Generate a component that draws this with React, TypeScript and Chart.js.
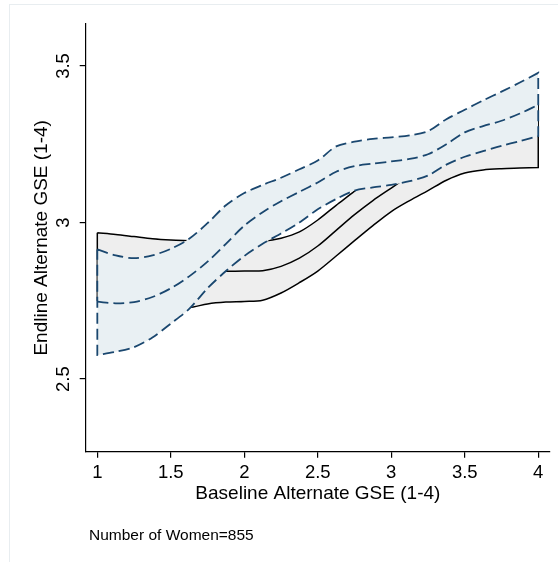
import React, { useEffect, useRef } from "react";
import { Chart, registerables } from "chart.js";

Chart.register(...registerables);

// Baseline score grid (x)
const X_GRID = [1, 1.125, 1.25, 1.375, 1.5, 1.625, 1.75, 1.875, 2, 2.125, 2.25, 2.375, 2.5, 2.625, 2.75, 2.875, 3, 3.125, 3.25, 3.375, 3.5, 3.625, 3.75, 3.875, 4];

// Blue band (dashed): upper CI, fit, lower CI
const BLUE_UPPER = [2.914, 2.895, 2.886, 2.895, 2.916, 2.948, 2.998, 3.055, 3.094, 3.12, 3.143, 3.17, 3.198, 3.243, 3.258, 3.267, 3.272, 3.278, 3.292, 3.33, 3.36, 3.39, 3.418, 3.447, 3.478];
const BLUE_MID = [2.747, 2.742, 2.746, 2.762, 2.79, 2.828, 2.875, 2.932, 2.99, 3.033, 3.068, 3.098, 3.128, 3.162, 3.18, 3.188, 3.195, 3.203, 3.218, 3.25, 3.288, 3.308, 3.325, 3.348, 3.376];
const BLUE_LOWER = [2.577, 2.587, 2.602, 2.633, 2.677, 2.724, 2.79, 2.845, 2.893, 2.932, 2.965, 3.0, 3.042, 3.075, 3.102, 3.112, 3.12, 3.132, 3.15, 3.185, 3.21, 3.228, 3.245, 3.26, 3.276];

// Gray band (solid): upper CI, fit, lower CI
const GRAY_UPPER = [2.967, 2.962, 2.955, 2.948, 2.944, 2.942, 2.94, 2.938, 2.938, 2.94, 2.95, 2.97, 3.008, 3.055, 3.1, 3.15, 3.19, 3.225, 3.26, 3.3, 3.33, 3.35, 3.365, 3.375, 3.385];
const GRAY_MID = [2.86, 2.855, 2.85, 2.847, 2.845, 2.843, 2.843, 2.844, 2.845, 2.846, 2.86, 2.886, 2.925, 2.975, 3.025, 3.07, 3.11, 3.15, 3.18, 3.21, 3.235, 3.255, 3.265, 3.275, 3.29];
const GRAY_LOWER = [2.752, 2.745, 2.74, 2.735, 2.728, 2.728, 2.74, 2.746, 2.748, 2.752, 2.775, 2.808, 2.845, 2.893, 2.942, 2.99, 3.035, 3.07, 3.102, 3.135, 3.158, 3.168, 3.172, 3.174, 3.176];

const X_TICKS = [1, 1.5, 2, 2.5, 3, 3.5, 4];
const Y_TICKS = [2.5, 3, 3.5];

const X_TITLE = "Baseline Alternate GSE (1-4)";
const Y_TITLE = "Endline Alternate GSE (1-4)";
const NOTE = "Number of Women=855";

const FONT = "'Liberation Sans', Arial, Helvetica, sans-serif";
const NAVY = "#1a476f";
const BLUE_FILL = "rgb(233,240,243)";
const GRAY_FILL = "rgb(238,238,238)";

type P = { x: number; y: number };

function toPoints(ys: number[]): P[] {
  return X_GRID.map((x, i) => ({ x, y: ys[i] }));
}

// Closed outline: upper left->right, down the right edge, lower right->left, up the left edge.
function outline(upper: number[], lower: number[]): P[] {
  const up = toPoints(upper);
  const lo = toPoints(lower).reverse();
  const uEnd = up[up.length - 1];
  const lStart = lo[0];
  const lEnd = lo[lo.length - 1];
  return [...up, { ...uEnd }, ...lo.slice(0, 1), { ...lStart }, ...lo.slice(1), { ...lEnd }, { ...up[0] }];
}

const TENSION = 0.3;
const HIDDEN = "rgba(0,0,0,0)";
const DASH = [11, 5];

export default function App() {
  const ref = useRef<HTMLCanvasElement | null>(null);

  useEffect(() => {
    if (!ref.current) return;
    const common = { pointRadius: 0, tension: TENSION };
    const chart = new Chart(ref.current, {
      type: "line",
      data: {
        datasets: [
          { ...common, data: outline(BLUE_UPPER, BLUE_LOWER), borderColor: NAVY, borderWidth: 1.8, borderDash: DASH, fill: false } as any,
          { ...common, data: toPoints(BLUE_MID), borderColor: NAVY, borderWidth: 1.8, borderDash: DASH, fill: false } as any,
          { ...common, data: toPoints(BLUE_UPPER), borderColor: HIDDEN, borderWidth: 0, backgroundColor: BLUE_FILL, fill: "+1" } as any,
          { ...common, data: toPoints(BLUE_LOWER), borderColor: HIDDEN, borderWidth: 0, fill: false } as any,
          { ...common, data: outline(GRAY_UPPER, GRAY_LOWER), borderColor: "#000", borderWidth: 1.5, fill: false } as any,
          { ...common, data: toPoints(GRAY_MID), borderColor: "#000", borderWidth: 1.5, fill: false } as any,
          { ...common, data: toPoints(GRAY_UPPER), borderColor: HIDDEN, borderWidth: 0, backgroundColor: GRAY_FILL, fill: "+1" } as any,
          { ...common, data: toPoints(GRAY_LOWER), borderColor: HIDDEN, borderWidth: 0, fill: false } as any,
        ],
      },
      options: {
        responsive: false,
        animation: false,
        events: [],
        layout: { padding: { left: 0, right: 8, top: 24, bottom: 57.1 } },
        plugins: {
          legend: { display: false },
          tooltip: { enabled: false },
          title: { display: false },
        },
        scales: {
          x: {
            type: "linear",
            min: 0.921,
            max: 4.08,
            afterFit: (s: any) => { s.height = 53.2; },
            afterBuildTicks: (s: any) => { s.ticks = X_TICKS.map((v) => ({ value: v })); },
            grid: { display: true, drawOnChartArea: false, drawTicks: true, tickLength: 6, color: "#000", lineWidth: 1.2 },
            border: { display: true, color: "#000", width: 1.2 },
            ticks: {
              autoSkip: false,
              minRotation: 0,
              maxRotation: 0,
              padding: 4.5,
              color: "#000",
              font: { family: FONT, size: 18.5 },
              callback: (v: any) => String(v),
            },
            title: { display: true, text: X_TITLE, color: "#000", font: { family: FONT, size: 19 }, padding: { top: 0, bottom: 0 } },
          },
          y: {
            type: "linear",
            min: 2.268,
            max: 3.634,
            afterFit: (s: any) => { s.width = 85.7; },
            afterBuildTicks: (s: any) => { s.ticks = Y_TICKS.map((v) => ({ value: v })); },
            grid: { display: true, drawOnChartArea: false, drawTicks: true, tickLength: 6, color: "#000", lineWidth: 1.2 },
            border: { display: true, color: "#000", width: 1.2 },
            ticks: {
              autoSkip: false,
              minRotation: 90,
              maxRotation: 90,
              crossAlign: "center",
              padding: 3.3,
              color: "#000",
              font: { family: FONT, size: 18.5 },
              callback: (v: any) => String(v),
            },
            title: { display: true, text: Y_TITLE, color: "#000", font: { family: FONT, size: 19 }, padding: { top: 30, bottom: 0 } },
          },
        },
      } as any,
    });
    return () => chart.destroy();
  }, []);

  return (
    <div style={{ position: "fixed", left: 0, top: 0, width: 558, height: 562, overflow: "hidden", background: "#fff" }}>
      <div style={{ position: "absolute", left: 9, top: 4, width: 600, height: 600, borderLeft: "1px solid #e8edf0", borderTop: "1px solid #e8edf0" }} />
      <canvas ref={ref} width={558} height={562} style={{ position: "absolute", left: 0, top: 0, width: 558, height: 562 }} />
      <div style={{ position: "absolute", left: 89, top: 526, fontFamily: FONT, fontSize: 15.5, lineHeight: "18px", color: "#000", whiteSpace: "nowrap" }}>{NOTE}</div>
    </div>
  );
}
